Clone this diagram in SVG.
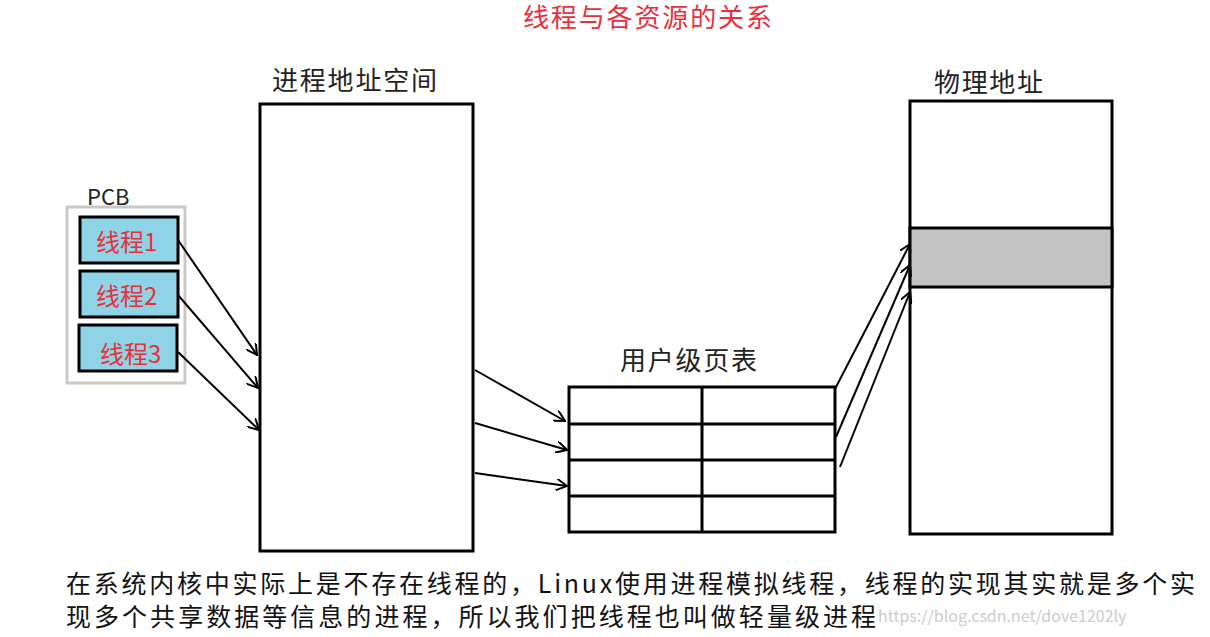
<svg xmlns="http://www.w3.org/2000/svg" width="1210" height="637" viewBox="0 0 1210 637">
<style>
text{font-family:"Noto Sans CJK SC","Liberation Serif",serif;}
.lbl{font-size:26px;fill:#222;}
.thr{font-size:24px;fill:#e8303c;}
.box{fill:#fff;stroke:#000;stroke-width:3;}
.tb{fill:#8fd3e6;stroke:#000;stroke-width:3;}
.c line{stroke:#000;stroke-width:2;marker-end:url(#a);}
</style>
<defs><marker id="a" viewBox="0 0 12 12" refX="11" refY="6" markerWidth="12" markerHeight="12" markerUnits="userSpaceOnUse" orient="auto"><path d="M0,0 L11,6 L0,12" fill="none" stroke="#000" stroke-width="2"/></marker></defs>
<rect width="1210" height="637" fill="#fff"/>
<text x="523" y="27" textLength="249" font-size="26" fill="#e8303c">线程与各资源的关系</text>
<g id="process"><text class="lbl" x="272" y="90" textLength="165">进程地址空间</text><rect class="box" x="260" y="104" width="213" height="447"/></g>
<g id="physical"><text class="lbl" x="934" y="92" textLength="109">物理地址</text><rect class="box" x="910" y="101" width="202" height="433"/><rect x="910" y="228" width="202" height="59" fill="#c3c3c3" stroke="#000" stroke-width="3"/></g>
<g id="pcb"><text x="87" y="205" font-size="22" font-family="Liberation Serif" fill="#222">PCB</text><rect x="67" y="207" width="118" height="176" fill="#fff" stroke="#c8c8c8" stroke-width="3"/>
<rect class="tb" x="80" y="217" width="98" height="46"/><text class="thr" x="96" y="251">线程1</text>
<rect class="tb" x="80" y="271" width="98" height="46"/><text class="thr" x="96" y="305">线程2</text>
<rect class="tb" x="79" y="325" width="98" height="46"/><text class="thr" x="100" y="363">线程3</text></g>
<g id="pagetable"><text class="lbl" x="620" y="370" textLength="137">用户级页表</text><rect class="box" x="569" y="387" width="266" height="145"/>
<path d="M569,424H835M569,460H835M569,496H835M702,387V532" stroke="#000" stroke-width="3"/></g>
<g class="c" id="connectors">
<line x1="178" y1="240" x2="257" y2="355"/><line x1="178" y1="295" x2="258" y2="388"/><line x1="178" y1="352" x2="259" y2="430"/>
<line x1="475" y1="370" x2="565" y2="421"/><line x1="475" y1="423" x2="567" y2="450"/><line x1="475" y1="473" x2="567" y2="486"/>
<line x1="835" y1="389" x2="910" y2="244"/><line x1="836" y1="437" x2="910" y2="265"/><line x1="840" y1="467" x2="910" y2="292"/>
</g>
<text x="66" y="593" font-size="25" textLength="1129" fill="#111">在系统内核中实际上是不存在线程的，Linux使用进程模拟线程，线程的实现其实就是多个实</text>
<text x="66" y="626" font-size="25" textLength="810" fill="#111">现多个共享数据等信息的进程，所以我们把线程也叫做轻量级进程</text>
<text x="878" y="622" font-size="16" fill="#ccc" font-family="Liberation Mono">https://blog.csdn.net/dove1202ly</text>
</svg>
